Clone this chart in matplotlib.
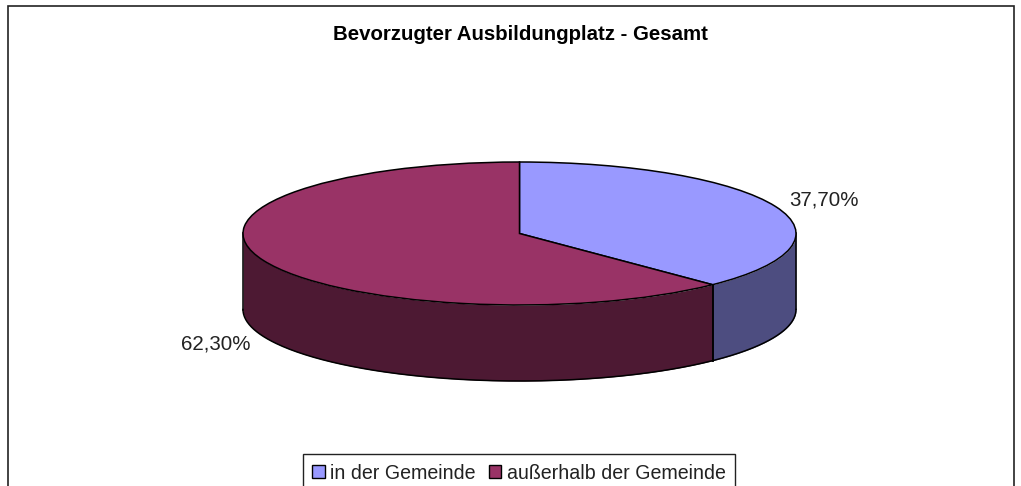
import matplotlib
matplotlib.use("Agg")
import matplotlib.pyplot as plt
from matplotlib.patches import Rectangle, Patch
import numpy as np

# === Data ===
categories = ["in der Gemeinde", "außerhalb der Gemeinde"]
shares = [37.70, 62.30]
share_labels = ["37,70%", "62,30%"]
top_colors = ["#9999FF", "#993366"]
side_colors = ["#4D4D80", "#4D1933"]
chart_title = "Bevorzugter Ausbildungplatz - Gesamt"

W, H = 1021, 486
plt.rcParams["font.family"] = ["Liberation Sans", "DejaVu Sans"]

fig = plt.figure(figsize=(W / 100, H / 100), dpi=100)

# outer chart frame, bottom edge runs off the image
fig.add_artist(Rectangle((8 / W, -0.05), (1014 - 8) / W, 1.05 - 6.5 / H, transform=fig.transFigure,
                         facecolor="none", edgecolor="#222222", linewidth=1.2, zorder=-1))

# --- Pie axes sits exactly on the top ellipse, so the pie comes out squashed ---
cx, cy, rx, ry, depth = 519.5, 233.5, 276.5, 71.5, 76
ax = fig.add_axes([(cx - rx) / W, 1 - (cy + ry) / H, 2 * rx / W, 2 * ry / H])
ax.set_axis_off()

# --- Side wall: only the front half of the rim (clockwise angle from top 90..270) ---
thickness = depth / ry
edges = np.concatenate([[0], np.cumsum(shares)]) / np.sum(shares) * 2 * np.pi
for i in range(len(shares)):
    a0 = max(edges[i], np.pi / 2)
    a1 = min(edges[i + 1], 3 * np.pi / 2)
    t = np.linspace(a0, a1, 200)
    x = np.sin(t)
    y = np.cos(t)
    ax.fill_between(x, y, y - thickness, color=side_colors[i], linewidth=0, clip_on=False, zorder=1)
    ax.plot(x, y - thickness, color="black", linewidth=1.1, clip_on=False, zorder=3)
    ax.plot([x[0], x[0]], [y[0], y[0] - thickness], color="black", linewidth=1.1, clip_on=False, zorder=3)
    ax.plot([x[-1], x[-1]], [y[-1], y[-1] - thickness], color="black", linewidth=1.1, clip_on=False, zorder=3)

wedges, _ = ax.pie(shares, colors=top_colors, startangle=90, counterclock=False, radius=1,
                   wedgeprops=dict(edgecolor="black", linewidth=1.1, zorder=4))
ax.set_aspect("auto")
ax.set_xlim(-1, 1)
ax.set_ylim(-1, 1)

# --- Texts ---
fig.text(520 / W, 1 - 35 / H, chart_title, ha="center", va="center", fontsize=14.7, fontweight="bold", color="black")
fig.text(824 / W, 1 - 200 / H, share_labels[0], ha="center", va="center", fontsize=14.8, color="#222222")
fig.text(216 / W, 1 - 344 / H, share_labels[1], ha="center", va="center", fontsize=14.8, color="#222222")

# --- Legend ---
handles = [Patch(facecolor=c, edgecolor="black", linewidth=1.0) for c in top_colors]
fig.legend(handles, categories, loc="center", bbox_to_anchor=(519 / W, 1 - 473 / H), ncols=2,
           fontsize=14.1, labelcolor="#222222", frameon=True, fancybox=False, framealpha=1, edgecolor="#222222",
           handlelength=0.62, handleheight=0.62, handletextpad=0.3, columnspacing=0.65,
           borderpad=0.5, borderaxespad=0).get_frame().set_linewidth(1.0)

fig.savefig("out.png", dpi=100)
